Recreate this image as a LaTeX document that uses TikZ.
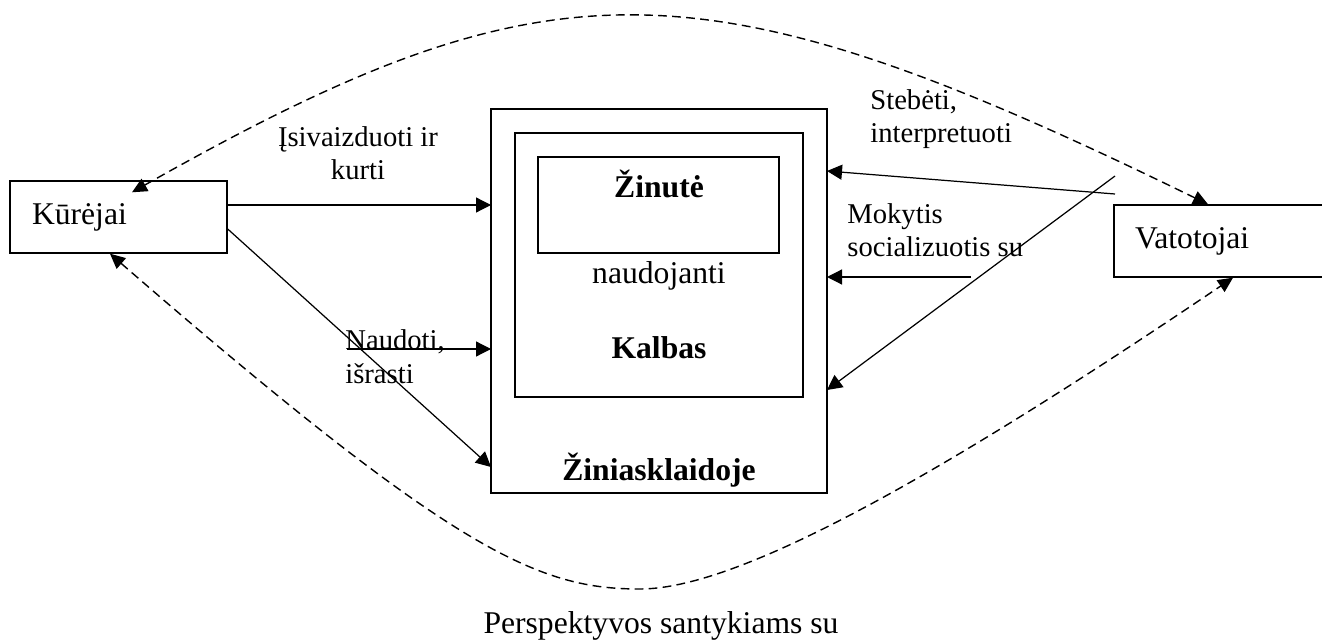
\documentclass[tikz,border=0pt]{standalone}
\usepackage{fontspec}
\setmainfont{Liberation Serif}
\usetikzlibrary{arrows.meta}

\begin{document}
\begin{tikzpicture}[
  box/.style={draw, line width=0.8pt, inner sep=0pt},
  boxtext/.style={font=\fontsize{18}{21}\selectfont},
  lbl/.style={font=\fontsize{16.3}{19.3}\selectfont, align=left, inner sep=0pt},
  arr/.style={line width=0.7pt, -{Triangle[length=0.3cm, width=0.3cm]}},
  dashline/.style={line width=0.8pt, dash pattern=on 5pt off 3pt,
    {Triangle[length=0.3cm, width=0.28cm]}-{Triangle[length=0.3cm, width=0.28cm]}}
]
\useasboundingbox (0,0) rectangle (26.44,12.78);

\node (kurejai) at (2.37,8.44) [box, boxtext, minimum width=4.34cm, minimum height=1.44cm, text width=3.46cm, inner xsep=0.44cm, align=left] {Kūrėjai};
\node (vatotojai) at (24.4,7.96) [box, boxtext, minimum width=4.24cm, minimum height=1.44cm, text width=3.4cm, inner xsep=0.42cm, align=left] {Vatotojai};

\node (media) at (13.18,6.76) [box, minimum width=6.72cm, minimum height=7.68cm] {};
\node (kalba) at (13.18,7.48) [box, minimum width=5.76cm, minimum height=5.28cm] {};
\node (zinute) at (13.17,8.68) [box, minimum width=4.82cm, minimum height=1.92cm] {};

\node (zinutetxt) at (13.18,8.82) [boxtext, anchor=base] {\textbf{Žinutė}};
\node (naudojanti) at (13.18,7.12) [boxtext, anchor=base] {naudojanti};
\node (kalbas) at (13.18,5.62) [boxtext, anchor=base] {\textbf{Kalbas}};
\node (ziniasklaida) at (13.18,3.18) [boxtext, anchor=base] {\textbf{Žiniasklaidoje}};

\node (isivaizduoti) at (7.16,9.18) [lbl, anchor=base, align=center] {Įsivaizduoti ir\\kurti};
\node (naudoti) at (6.9,5.12) [lbl, anchor=base west] {Naudoti,\\išrasti};
\node (stebeti) at (17.4,9.92) [lbl, anchor=base west] {Stebėti,\\interpretuoti};
\node (mokytis) at (16.94,7.64) [lbl, anchor=base west] {Mokytis\\socializuotis su};
\node (perspektyvos) at (13.22,0.12) [boxtext, anchor=base] {Perspektyvos santykiams su};

\coordinate (kin1) at (9.82,8.68);
\coordinate (kin2) at (9.82,5.8);
\coordinate (kin3) at (9.82,3.44);
\coordinate (nstart) at (6.94,5.8);
\coordinate (vin1) at (16.54,9.36);
\coordinate (vin2) at (16.54,7.24);
\coordinate (vin3) at (16.54,4.98);
\coordinate (sstart) at (22.3,8.9);
\coordinate (mstart) at (19.42,7.24);
\coordinate (istart) at (22.3,9.26);

\draw [arr] (kurejai.east |- kin1) -- (kin1);
\draw [arr] ([yshift=-0.24cm]kurejai.east) -- (kin3);
\draw [arr] (nstart) -- (kin2);
\draw [arr] (sstart) -- (vin1);
\draw [arr] (mstart) -- (vin2);
\draw [arr] (istart) -- (vin3);

\draw [dashline] ([xshift=0.27cm,yshift=-0.24cm]kurejai.north) .. controls (11.0,13.66) and (14.0,13.66) .. ([xshift=-0.24cm]vatotojai.north);
\draw [dashline] ([xshift=-0.17cm]kurejai.south) .. controls (9.14,1.68) and (10.8,1.0) .. (12.8,1.0) .. controls (14.8,1.0) and (18.85,3.3) .. ([xshift=0.26cm]vatotojai.south);
\end{tikzpicture}
\end{document}
